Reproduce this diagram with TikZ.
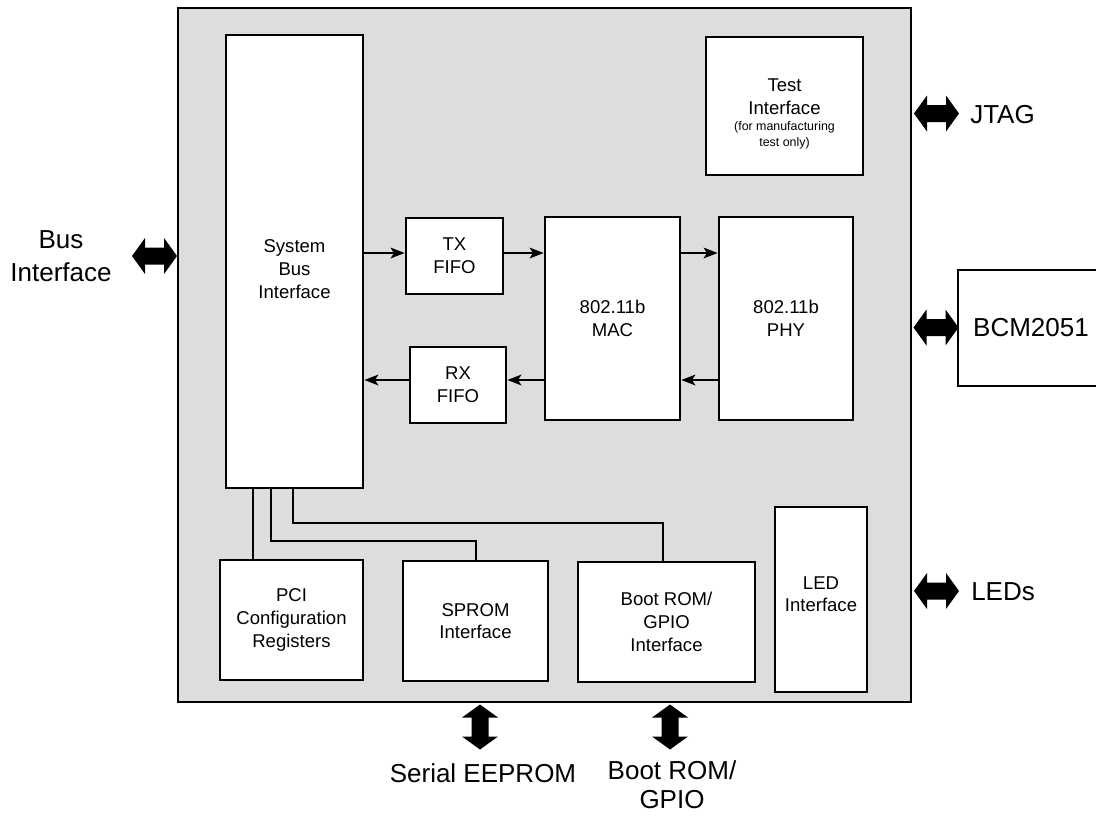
\documentclass[tikz,border=0pt]{standalone}
\usepackage{fontspec}
\setmainfont{Liberation Sans}
\usetikzlibrary{arrows.meta}
\definecolor{chipgray}{RGB}{221,221,221}
\newcommand{\fouter}{\fontsize{19.5}{24.5}\selectfont}
\newcommand{\finner}{\fontsize{13.9}{17}\selectfont}
\newcommand{\fsmallx}{\fontsize{9.3}{12}\selectfont}
\tikzset{
  box/.style={draw=black, line width=2pt, fill=white, align=center, font=\finner, inner sep=0pt},
  arr/.style={line width=1.6pt, -{Stealth[length=10.5pt,width=8pt,inset=2.5pt]}},
  wire/.style={line width=1.5pt},
  outerlbl/.style={font=\fouter, align=center, inner sep=0pt},
  harr/.pic={\fill[black] (-22.5,0) -- (-9.5,18) -- (-9.5,8.5) -- (9.5,8.5) -- (9.5,18) -- (22.5,0) -- (9.5,-18) -- (9.5,-8.5) -- (-9.5,-8.5) -- (-9.5,-18) -- cycle;},
  varr/.pic={\fill[black] (0,-22.5) -- (18,-9.5) -- (8.5,-9.5) -- (8.5,9.5) -- (18,9.5) -- (0,22.5) -- (-18,9.5) -- (-8.5,9.5) -- (-8.5,-9.5) -- (-18,-9.5) -- cycle;}
}
\begin{document}
\begin{tikzpicture}[x=0.75pt, y=-0.75pt]
\useasboundingbox (0,0) rectangle (1096,815);
% chip outline
\node[draw=black, line width=2.2pt, fill=chipgray, minimum width=549.75pt, minimum height=520.5pt, inner sep=0pt] (chip) at (544.5,355) {};
% inner blocks
\node[box, minimum width=102.75pt, minimum height=339.75pt,
      label={[align=center, font=\finner, inner sep=0pt, yshift=-5.6pt]center:System\\Bus\\Interface}] (sbi) at (294.5,261.5) {};
\node[box, minimum width=117.75pt, minimum height=103.5pt,
      label={[align=center, font=\finner, inner sep=0pt, yshift=-6pt]center:Test\\Interface\\[-4.75pt]\fsmallx (for manufacturing\\[-5.25pt]\fsmallx test only)}] (test) at (784.5,106) {};
\node[box, minimum width=72.75pt, minimum height=57pt] (tx) at (454.5,256) {TX\\FIFO};
\node[box, minimum width=72pt, minimum height=57pt] (rx) at (458,385) {RX\\FIFO};
\node[box, minimum width=101.25pt, minimum height=152.25pt] (mac) at (612.5,318.5) {802.11b\\MAC};
\node[box, minimum width=100.5pt, minimum height=152.25pt] (phy) at (786,318.5) {802.11b\\PHY};
\node[box, minimum width=107.25pt, minimum height=90pt] (pci) at (291.5,620) {PCI\\Configuration\\Registers};
\node[box, minimum width=108.75pt, minimum height=90pt] (sprom) at (475.5,621) {SPROM\\Interface};
\node[box, minimum width=132.75pt, minimum height=90pt] (boot) at (666.5,622) {Boot ROM/\\GPIO\\Interface};
\node[box, minimum width=69pt, minimum height=138.75pt,
      label={[align=center, font=\finner, inner sep=0pt, yshift=4pt]center:LED\\Interface}] (led) at (821,599.5) {};
% BCM2051 (cut by the right edge)
\begin{scope}
\clip (0,0) rectangle (1096,815);
\node[box, font=\fouter, minimum width=109.5pt, minimum height=87pt] (bcm) at (1031,328) {BCM2051};
\end{scope}
% data path arrows
\coordinate (ty) at (0,253);
\coordinate (ry) at (0,380);
\draw[arr] (sbi.east |- ty) -- (tx.west |- ty);
\draw[arr] (tx.east |- ty) -- (mac.west |- ty);
\draw[arr] (mac.east |- ty) -- (phy.west |- ty);
\draw[arr] (phy.west |- ry) -- (mac.east |- ry);
\draw[arr] (mac.west |- ry) -- (rx.east |- ry);
\draw[arr] (rx.west |- ry) -- (sbi.east |- ry);
% wires from system bus interface
\coordinate (w1) at (253,0);
\coordinate (w2) at (270.5,541);
\coordinate (w2e) at (476,541);
\coordinate (w3) at (292.5,522.5);
\coordinate (w3e) at (663,522.5);
\draw[wire] (sbi.south -| w1) -- (pci.north -| w1);
\draw[wire] (sbi.south -| w2) -- (w2) -- (w2e) -- (sprom.north -| w2e);
\draw[wire] (sbi.south -| w3) -- (w3) -- (w3e) -- (boot.north -| w3e);
% external block arrows
\pic at (154.5,256) {harr};
\pic at (936.5,113.5) {harr};
\pic at (936,327.5) {harr};
\pic at (936.5,591) {harr};
\pic at (480,727) {varr};
\pic at (670,727) {varr};
% external labels
\node[outerlbl] (lbus) at (61,256) {Bus\\Interface};
\node[outerlbl, anchor=west] (ljtag) at (970,115) {JTAG};
\node[outerlbl, anchor=west] (lleds) at (971,592) {LEDs};
\node[outerlbl] (lser) at (483,773) {Serial EEPROM};
\node[outerlbl, font=\fontsize{19.5}{22}\selectfont] (lboot) at (672,785) {Boot ROM/\\GPIO};
\end{tikzpicture}
\end{document}
